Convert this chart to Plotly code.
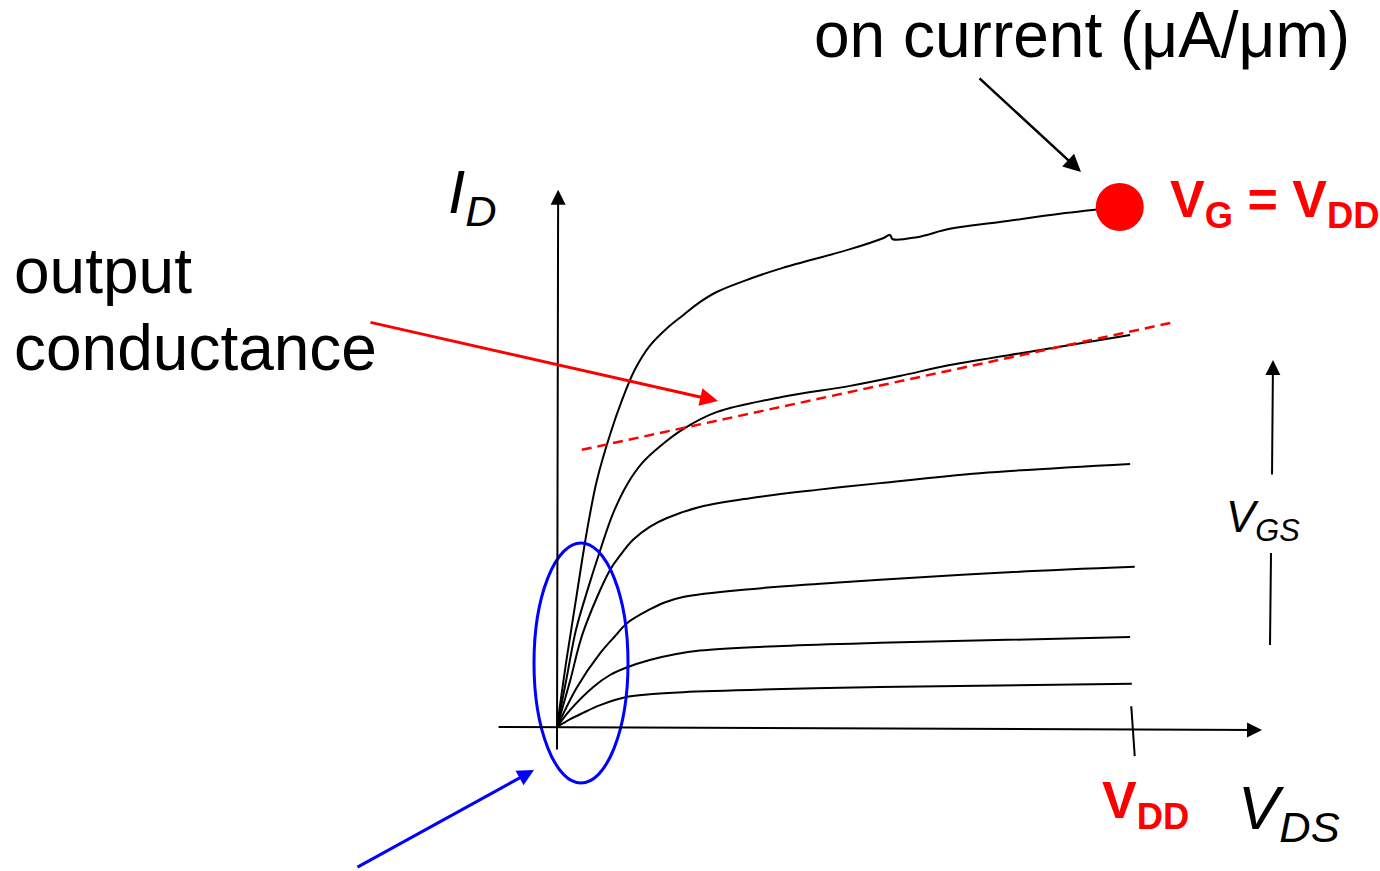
import plotly.graph_objects as go

W, H = 1380, 871
FONT = "Liberation Sans, Arial, sans-serif"
RED = "#ff0000"
BLUE = "#0000ff"

# Output characteristics: V_DS in volts, I_D in µA/µm, one sweep per gate voltage
# (g1 = highest gate voltage, V_G = V_DD)
vds_g1 = [0.000, 0.017, 0.035, 0.052, 0.069, 0.092, 0.113, 0.135, 0.161, 0.191,
          0.219, 0.248, 0.278, 0.335, 0.392, 0.509, 0.566, 0.578, 0.583, 0.625,
          0.682, 0.769, 0.873, 0.977]
id_g1 = [0, 133, 260, 377, 473, 562, 629, 687, 733, 767,
         792, 817, 837, 862, 883, 919, 940, 946, 938, 942,
         958, 971, 987, 1000]

vds_g2 = [0.000, 0.016, 0.033, 0.054, 0.075, 0.097, 0.122, 0.148, 0.179, 0.219,
          0.278, 0.392, 0.509, 0.595, 0.682, 0.839, 0.995]
id_g2 = [0, 90, 187, 267, 340, 410, 467, 508, 540, 573,
         606, 635, 656, 675, 696, 725, 754]

vds_g3 = [0.000, 0.023, 0.045, 0.092, 0.109, 0.132, 0.161, 0.191, 0.248, 0.335, 0.451,
          0.561, 0.734, 0.995]
id_g3 = [0, 90, 181, 302, 329, 360, 385, 402, 423, 440, 456,
         469, 488, 506]

vds_g4 = [0.000, 0.035, 0.075, 0.101, 0.122, 0.161, 0.188, 0.219, 0.335, 0.451, 0.561,
          0.792, 1.003]
id_g4 = [0, 77, 142, 175, 200, 226, 240, 250, 265, 275, 283,
         298, 308]

vds_g5 = [0.000, 0.023, 0.063, 0.092, 0.122, 0.161, 0.205, 0.248, 0.392, 0.561, 0.995]
id_g5 = [0, 33, 77, 100, 115, 129, 140, 147, 156, 162, 173]

vds_g6 = [0.000, 0.023, 0.045, 0.075, 0.122, 0.161, 0.219, 0.392, 0.561, 0.998]
id_g6 = [0, 15, 27, 42, 58, 63, 67, 73, 77, 83]

# Tangent in saturation (output conductance) on the second curve
vds_tangent = [0.043, 1.073]
id_tangent = [533, 779]

# Supply voltage and the on-current operating point
VDD = 1.0
vds_on = [0.977]
id_on = [1000]

curves = [(vds_g1, id_g1), (vds_g2, id_g2), (vds_g3, id_g3),
          (vds_g4, id_g4), (vds_g5, id_g5), (vds_g6, id_g6)]

fig = go.Figure()
for vds, idr in curves:
    fig.add_trace(go.Scatter(x=vds, y=idr, mode="lines",
                             line=dict(color="black", width=2, shape="spline", smoothing=1.0),
                             hoverinfo="skip"))

fig.add_trace(go.Scatter(x=vds_tangent, y=id_tangent, mode="lines",
                         line=dict(color=RED, width=2.5, dash="10px,6px"),
                         hoverinfo="skip"))

fig.add_trace(go.Scatter(x=vds_on, y=id_on, mode="markers",
                         marker=dict(color=RED, size=48, line=dict(width=0)),
                         hoverinfo="skip"))


def px(x):
    return x / W


def py(y):
    return 1 - y / H


annotations = []

# Axes drawn as arrows through the data origin
annotations.append(dict(x=1.224, y=-6, ax=-0.104, ay=0, xref="x", yref="y", axref="x", ayref="y",
                        text="", showarrow=True, arrowhead=2, arrowsize=1.5, arrowwidth=2,
                        arrowcolor="black"))
annotations.append(dict(x=0.002, y=1033, ax=0, ay=-46, xref="x", yref="y", axref="x", ayref="y",
                        text="", showarrow=True, arrowhead=2, arrowsize=1.5, arrowwidth=2,
                        arrowcolor="black"))

# Pointer arrows
annotations.append(dict(x=px(1273), y=py(360), ax=-1, ay=116, xref="paper", yref="paper",
                        text="", showarrow=True, arrowhead=2, arrowsize=1.5, arrowwidth=2,
                        arrowcolor="black"))
annotations.append(dict(x=px(1081), y=py(172), ax=-103, ay=-95, xref="paper", yref="paper",
                        text="", showarrow=True, arrowhead=2, arrowsize=1.4, arrowwidth=2.5,
                        arrowcolor="black"))
annotations.append(dict(x=px(718), y=py(401), ax=-349, ay=-79, xref="paper", yref="paper",
                        text="", showarrow=True, arrowhead=2, arrowsize=1.2, arrowwidth=3,
                        arrowcolor=RED))
annotations.append(dict(x=px(534), y=py(770), ax=-178, ay=98, xref="paper", yref="paper",
                        text="", showarrow=True, arrowhead=2, arrowsize=1.1, arrowwidth=3,
                        arrowcolor=BLUE))


def label(text, x, y, size, color="black"):
    annotations.append(dict(x=px(x), y=py(y), xref="paper", yref="paper", text=text,
                            showarrow=False, xanchor="left", yanchor="middle",
                            font=dict(family=FONT, size=size, color=color)))


label("on current (μA/μm)", 812, 35, 64)
label("output", 12, 271, 64)
label("conductance", 12, 348, 64)
label("<i>I<sub>D</sub></i>", 446, 196, 62)
label("<i>V<sub>DS</sub></i>", 1236, 812, 62)
label("<i>V<sub>GS</sub></i>", 1224, 520, 44)
label("<b>V<sub>DD</sub></b>", 1100, 804, 52, RED)
label("<b>V<sub>G</sub> = V<sub>DD</sub></b>", 1168, 203, 52, RED)

shapes = [
    # tick marking V_DD on the V_DS axis
    dict(type="line", xref="x", yref="y", x0=VDD - 0.003, y0=40, x1=VDD + 0.003, y1=-56,
         line=dict(color="black", width=2)),
    # lower half of the V_GS arrow
    dict(type="line", xref="paper", yref="paper", x0=px(1270), y0=py(645), x1=px(1271), y1=py(553),
         line=dict(color="black", width=2)),
    # linear-region highlight
    dict(type="circle", xref="paper", yref="paper", x0=px(534), y0=py(783), x1=px(628), y1=py(543),
         line=dict(color=BLUE, width=3)),
]

fig.update_layout(
    width=W, height=H, autosize=False,
    margin=dict(l=0, r=0, t=0, b=0, pad=0),
    paper_bgcolor="white", plot_bgcolor="white",
    showlegend=False,
    xaxis=dict(visible=False, range=[-0.96701, 1.42882]),
    yaxis=dict(visible=False, range=[-276.92, 1398.08]),
    annotations=annotations,
    shapes=shapes,
)

fig.write_html("out.html", config={"displayModeBar": False})
